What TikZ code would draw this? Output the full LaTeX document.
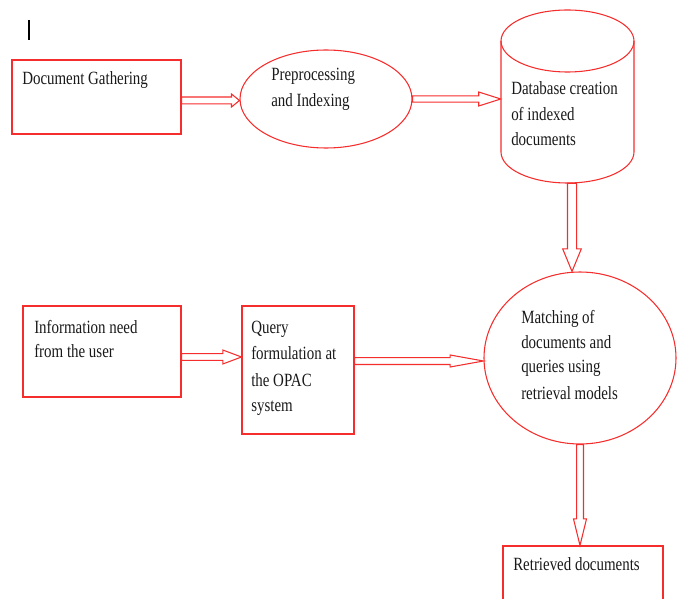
\documentclass[tikz,border=0pt]{standalone}
\usepackage{fontspec}
\setmainfont[FakeStretch=0.8]{Liberation Serif}
\usetikzlibrary{calc,shapes.geometric}
\definecolor{lred}{RGB}{245,45,45}
\tikzset{
  outline/.style={draw=lred, line width=0.8pt},
  boxnode/.style={outline, rectangle, inner sep=0pt},
  ovalnode/.style={outline, ellipse, inner sep=0pt},
  hidden/.style={rectangle, inner sep=0pt},
  conn/.style={draw=lred, line width=0.8pt, line join=miter},
  txt/.style={anchor=base west, inner sep=0pt, font=\fontsize{14pt}{19pt}\selectfont, text=black!90}
}
% start, end, head length, head half width, shaft half width
\newcommand\hollowarrow[5]{%
  \coordinate (hs) at (#1); \coordinate (he) at (#2);
  \coordinate (hb) at ($(he)!#3!(hs)$);
  \draw[conn] ($(hs)!#5!90:(he)$) -- ($(hb)!#5!90:(he)$) -- ($(hb)!#4!90:(he)$) -- (he)
     -- ($(hb)!#4!-90:(he)$) -- ($(hb)!#5!-90:(he)$) -- ($(hs)!#5!-90:(he)$) -- cycle;}
\begin{document}
\begin{tikzpicture}[x=0.75pt, y=-0.75pt]
\useasboundingbox (0,0) rectangle (686,599);
% cursor bar
\draw[line width=1.4pt, black] (29,20) -- (29,40);

% shapes
\node[boxnode, minimum width=126.75pt, minimum height=55.5pt] (gather) at (96.5,97) {};
\node[ovalnode, minimum width=129pt, minimum height=73.5pt] (pre) at (326,99) {};
\node[hidden, minimum width=99.75pt, minimum height=129.75pt] (db) at (567.5,96.5) {};
\draw[outline] (567.5,41) ellipse [x radius=66.5, y radius=31];
\draw[outline] (501,41) -- (501,152) arc[start angle=180, end angle=0, x radius=66.5, y radius=31] -- (634,41);
\node[ovalnode, minimum width=144pt, minimum height=129pt] (match) at (580,358) {};
\node[boxnode, minimum width=118.5pt, minimum height=68.25pt] (info) at (102,351.5) {};
\node[boxnode, minimum width=84pt, minimum height=96pt] (query) at (298,370) {};
\node[boxnode, minimum width=120pt, minimum height=55.5pt] (ret) at (583,583) {};

% texts
\node[txt] (t1) at (22,85) {Document Gathering};
\node[txt] (t2a) at (271,81) {Preprocessing};
\node[txt] (t2b) at (271,107) {and Indexing};
\node[txt] (t3a) at (511,95) {Database creation};
\node[txt] (t3b) at (511,121) {of indexed};
\node[txt] (t3c) at (511,146) {documents};
\node[txt] (t4a) at (34,333) {Information need};
\node[txt] (t4b) at (34,358) {from the user};
\node[txt] (t5a) at (251,333) {Query};
\node[txt] (t5b) at (251,359) {formulation at};
\node[txt] (t5c) at (251,386) {the OPAC};
\node[txt] (t5d) at (251,411) {system};
\node[txt] (t6a) at (521,323) {Matching of};
\node[txt] (t6b) at (521,349) {documents and};
\node[txt] (t6c) at (521,373) {queries using};
\node[txt] (t6d) at (521,399) {retrieval models};
\node[txt] (t7) at (513,570) {Retrieved documents};

% connectors
\coordinate (a1) at ($(gather.east |- pre.west)+(0,1.5)$);
\hollowarrow{a1}{a1 -| pre.west}{6pt}{4.9pt}{2.6pt}
\coordinate (a2) at (pre.east);
\hollowarrow{a2}{a2 -| db.west}{16.5pt}{5.25pt}{2.4pt}
\coordinate (a3) at ($(db.south)+(4.5,0)$);
\hollowarrow{a3}{a3 |- match.north}{17pt}{7pt}{3.4pt}
\coordinate (a4) at ($(info.east)+(0,5.5)$);
\hollowarrow{a4}{a4 -| query.west}{14pt}{5.25pt}{2.5pt}
\coordinate (a5) at ($(query.east)+(0,-9)$);
\hollowarrow{a5}{a5 -| match.west}{25pt}{4.5pt}{2.6pt}
\coordinate (a6) at (match.south);
\hollowarrow{a6}{a6 |- ret.north}{20pt}{4.9pt}{2.6pt}
\end{tikzpicture}
\end{document}
